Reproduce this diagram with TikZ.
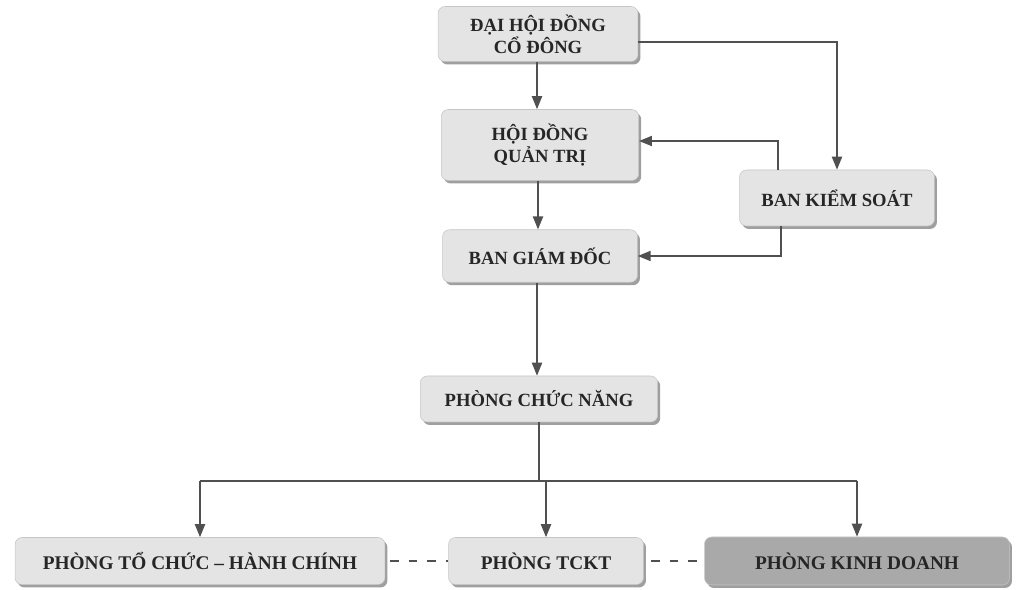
\documentclass[tikz,border=0pt]{standalone}
\usepackage{fontspec}
\setmainfont{Liberation Serif}
\usetikzlibrary{arrows.meta,shadows}
\definecolor{boxgray}{HTML}{E4E4E4}
\definecolor{darkbox}{HTML}{A9A9A9}
\definecolor{linegray}{HTML}{505050}
\tikzset{
	box/.style={rectangle, rounded corners=4pt, fill=boxgray, draw=gray!45, line width=0.3pt, align=center,
		font=\fontsize{10.6}{12.5}\selectfont\bfseries, text=black!85,
		drop shadow={shadow xshift=0.05cm, shadow yshift=-0.06cm, fill=gray!75, opacity=1}},
	lowbox/.style={box, font=\fontsize{11}{13}\selectfont\bfseries},
	arr/.style={-{Triangle[length=2.6mm,width=2mm]}, draw=linegray, line width=1.1pt},
	link/.style={draw=linegray, line width=1.1pt}
}
\begin{document}
\begin{tikzpicture}[x=0.02cm, y=-0.02cm]
					\useasboundingbox (0,0) rectangle (1019,590);
					\node[box, minimum width=4cm, minimum height=1.1cm] (DHCD)at(538, 34) {ĐẠI HỘI ĐỒNG\\CỔ ĐÔNG};
					\node[box, minimum width=3.95cm, minimum height=1.42cm] (HDQT)at(540, 145) {HỘI ĐỒNG\\QUẢN TRỊ};
					\node[box, minimum width=3.9cm, minimum height=1.05cm] (BGD)at(540, 256) {BAN GIÁM ĐỐC};
					\node[box, minimum width=3.9cm, minimum height=1.12cm] (BKS)at(837, 198) {BAN KIỂM SOÁT};
					\node[box, minimum width=4.75cm, minimum height=0.92cm] (PCN)at(539, 399) {PHÒNG CHỨC NĂNG};
					\node[lowbox, minimum width=7.4cm, minimum height=0.94cm] (TCHC)at(200, 561) {PHÒNG TỔ CHỨC – HÀNH CHÍNH};
					\node[lowbox, minimum width=3.9cm, minimum height=0.94cm] (TCKT)at(546, 561) {PHÒNG TCKT};
					\node[lowbox, fill=darkbox, minimum width=6.1cm, minimum height=0.96cm] (KD)at(857, 561) {PHÒNG KINH DOANH};
					\coordinate (bus) at (539, 481);
					\draw[arr] (DHCD.south -| 537,0) -- (HDQT.north -| 537,0);
					\draw[arr] ([yshift=-0.16cm]DHCD.east) -| (BKS.north);
					\draw[arr] ([xshift=-1.18cm]BKS.north) |- ([yshift=0.08cm]HDQT.east);
					\draw[arr] (HDQT.south -| 538,0) -- (BGD.north -| 538,0);
					\draw[arr] ([xshift=-1.12cm]BKS.south) |- (BGD.east);
					\draw[arr] (BGD.south -| 537,0) -- (PCN.north -| 537,0);
					\draw[link] (PCN.south -| bus) -- (bus);
					\draw[link] (TCHC.north |- bus) -- (KD.north |- bus);
					\draw[arr] (TCHC.north |- bus) -- (TCHC.north);
					\draw[arr] (TCKT.north |- bus) -- (TCKT.north);
					\draw[arr] (KD.north |- bus) -- (KD.north);
					\draw[link, line width=0.9pt, dash pattern=on 0.17cm off 0.2cm] ([xshift=0.1cm]TCHC.east) -- (TCKT.west);
					\draw[link, line width=0.9pt, dash pattern=on 0.17cm off 0.2cm] ([xshift=0.15cm]TCKT.east) -- (KD.west);
				\end{tikzpicture}
\end{document}
